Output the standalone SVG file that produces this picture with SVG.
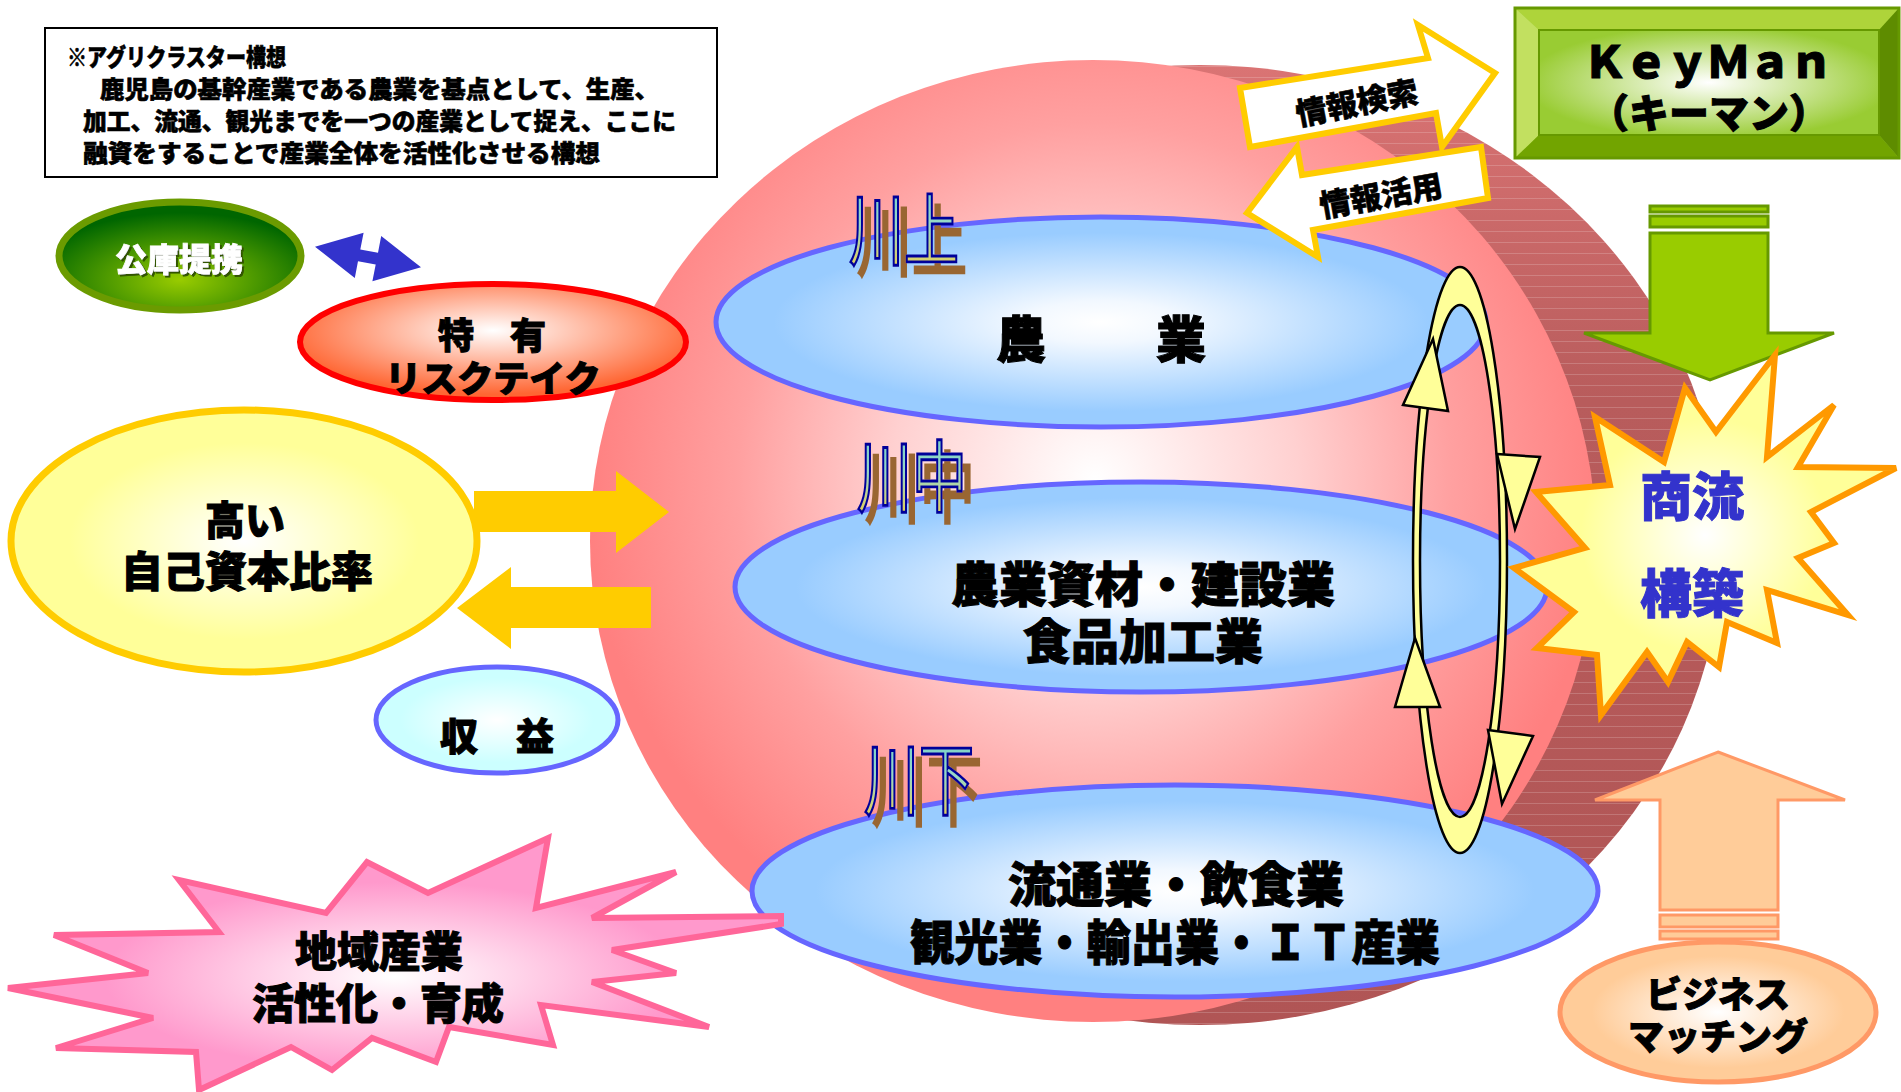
<svg xmlns="http://www.w3.org/2000/svg" width="1901" height="1092" viewBox="0 0 1901 1092">
<style>
text{font-family:"Noto Sans CJK JP","Noto Sans",sans-serif;font-weight:900;fill:#000;stroke:#000;stroke-width:1}
.kawa{font-size:55px;font-weight:400;fill:url(#kawaGrad);stroke:#000099;stroke-width:2}
.blue{fill:url(#gBlue);stroke:#6666FF;stroke-width:5}
.tri{fill:#FFFF99;stroke:#000;stroke-width:2.5;stroke-linejoin:miter}
.info{fill:#fff;stroke:#FFCC00;stroke-width:6}
.yarrow{fill:#FFCC00}
.tb{font-size:24px;stroke-width:0.6}
</style>
<defs>
<radialGradient id="gPink" gradientUnits="userSpaceOnUse" cx="1095" cy="480" r="510">
<stop offset="0" stop-color="#FFFFFF"/><stop offset="0.4" stop-color="#FFD0D0"/><stop offset="0.7" stop-color="#FFA0A0"/><stop offset="1" stop-color="#FF8080"/>
</radialGradient>
<linearGradient id="gDark" x1="0" y1="0" x2="0" y2="1">
<stop offset="0" stop-color="#DA7474"/><stop offset="0.35" stop-color="#B85C5C"/><stop offset="1" stop-color="#B05555"/>
</linearGradient>
<pattern id="stripes" patternUnits="userSpaceOnUse" width="20" height="11">
<rect x="0" y="0" width="20" height="1" fill="#ffffff" fill-opacity="0.18"/>
</pattern>
<radialGradient id="gBlue" cx="0.5" cy="0.5" r="0.5">
<stop offset="0" stop-color="#FFFFFF"/><stop offset="0.2" stop-color="#F2F8FF"/><stop offset="0.85" stop-color="#99CCFF"/>
</radialGradient>
<linearGradient id="kawaGrad" x1="0" y1="0" x2="0" y2="1">
<stop offset="0" stop-color="#66CCCC"/><stop offset="0.5" stop-color="#99D9C6"/><stop offset="1" stop-color="#FFCC33"/>
</linearGradient>
<radialGradient id="gGreenEl" cx="0.5" cy="0.72" r="0.62">
<stop offset="0" stop-color="#99CC00"/><stop offset="1" stop-color="#006600"/>
</radialGradient>
<radialGradient id="gRisk" cx="0.5" cy="0.4" r="0.55">
<stop offset="0" stop-color="#FFFFFF"/><stop offset="1" stop-color="#FF6633"/>
</radialGradient>
<radialGradient id="gYellow" cx="0.5" cy="0.5" r="0.5">
<stop offset="0" stop-color="#FFFFFF"/><stop offset="0.75" stop-color="#FFFF99"/>
</radialGradient>
<radialGradient id="gCyan" cx="0.5" cy="0.5" r="0.5">
<stop offset="0" stop-color="#FFFFFF"/><stop offset="0.8" stop-color="#CCFFFF"/>
</radialGradient>
<radialGradient id="gPeach" cx="0.5" cy="0.5" r="0.5">
<stop offset="0" stop-color="#FFFFFF"/><stop offset="0.8" stop-color="#FFCC99"/>
</radialGradient>
<radialGradient id="gPinkStar" cx="0.5" cy="0.55" r="0.5">
<stop offset="0" stop-color="#FFFFFF"/><stop offset="0.75" stop-color="#FF99CC"/>
</radialGradient>
<radialGradient id="gYStar" cx="0.5" cy="0.5" r="0.5">
<stop offset="0" stop-color="#FFFFFF"/><stop offset="0.65" stop-color="#FFFF99"/>
</radialGradient>
<radialGradient id="gKey" cx="0.5" cy="0.5" r="0.6">
<stop offset="0" stop-color="#FFFFFF"/><stop offset="0.9" stop-color="#99CC33"/>
</radialGradient>
<filter id="kshadow" x="-10%" y="-20%" width="140%" height="160%">
<feOffset in="SourceAlpha" dx="8" dy="8" result="o"/>
<feFlood flood-color="#996633"/>
<feComposite in2="o" operator="in" result="s"/>
<feMerge><feMergeNode in="s"/><feMergeNode in="SourceGraphic"/></feMerge>
</filter>
<filter id="gshadow" x="-10%" y="-20%" width="130%" height="150%">
<feOffset in="SourceAlpha" dx="2" dy="2" result="o"/>
<feFlood flood-color="#335500"/>
<feComposite in2="o" operator="in" result="s"/>
<feMerge><feMergeNode in="s"/><feMergeNode in="SourceGraphic"/></feMerge>
</filter>
</defs>
<rect x="0" y="0" width="1901" height="1092" fill="#FFFFFF"/>

<g id="sphere">
<ellipse cx="1200" cy="545" rx="522" ry="480" fill="url(#gDark)"/>
<ellipse cx="1200" cy="545" rx="522" ry="480" fill="url(#stripes)"/>
<ellipse cx="1093" cy="541" rx="503" ry="481" fill="url(#gPink)"/>
</g>

<g id="node-kawakami">
<ellipse class="blue" cx="1101" cy="322" rx="385" ry="105"/>
<text font-size="50" text-anchor="middle" y="358"><tspan x="1021">農</tspan><tspan x="1181">業</tspan></text>
<g transform="translate(849,259) scale(1,1.43)"><text class="kawa" x="0" y="0" filter="url(#kshadow)">川上</text></g>
</g>

<g id="node-kawanaka">
<ellipse class="blue" cx="1141" cy="587" rx="406" ry="105"/>
<text font-size="48" text-anchor="middle" x="1143" y="602">農業資材・建設業</text>
<text font-size="48" text-anchor="middle" x="1143" y="659">食品加工業</text>
<g transform="translate(857,506) scale(1,1.43)"><text class="kawa" x="0" y="0" filter="url(#kshadow)">川中</text></g>
</g>

<g id="node-kawashimo">
<ellipse class="blue" cx="1175" cy="891" rx="423" ry="106"/>
<text font-size="48" text-anchor="middle" x="1176" y="902">流通業・飲食業</text>
<text font-size="48" text-anchor="middle" x="1175" y="960" textLength="530" lengthAdjust="spacingAndGlyphs">観光業・輸出業・ＩＴ産業</text>
<g transform="translate(864,809) scale(1,1.43)"><text class="kawa" x="0" y="0" filter="url(#kshadow)">川下</text></g>
</g>

<g id="connectors">
<g id="cycle">
<path d="M1460,267 A47,293 0 1,1 1460,853 A47,293 0 1,1 1460,267 Z M1460,305 A40,256 0 1,0 1460,817 A40,256 0 1,0 1460,305 Z" fill="#FFFF99" fill-rule="evenodd" stroke="#000" stroke-width="2.5"/>
<polygon class="tri" points="1433,339 1403,405 1448,411"/>
<polygon class="tri" points="1415,638 1395,707 1440,707"/>
<polygon class="tri" points="1497,454 1540,457 1515,529"/>
<polygon class="tri" points="1488,730 1533,736 1502,804"/>
</g>
<polygon id="arrow-search" class="info" points="1240,88 1428,58 1418,25 1495,73 1442,147 1436,113 1250,147"/>
<text font-size="31" text-anchor="middle" transform="translate(1357,103) rotate(-11)" x="0" y="11" textLength="124" lengthAdjust="spacingAndGlyphs" style="stroke-width:0.6">情報検索</text>
<polygon id="arrow-use" class="info" points="1247,213 1297,147 1302,175 1481,147 1488,198 1313,230 1318,257"/>
<text font-size="31" text-anchor="middle" transform="translate(1381,196) rotate(-10)" x="0" y="11" textLength="124" lengthAdjust="spacingAndGlyphs" style="stroke-width:0.6">情報活用</text>
<g id="arrow-keyman" fill="#99CC00" stroke="#669900" stroke-width="3">
<rect x="1650" y="206" width="118" height="6"/>
<rect x="1650" y="216" width="118" height="11"/>
<polygon points="1650,233 1768,233 1768,333 1834,333 1710,380 1584,333 1650,333"/>
</g>
<g id="arrow-matching" fill="#FFCC99" stroke="#FF9966" stroke-width="3">
<polygon points="1718,752 1845,800 1778,800 1778,910 1660,910 1660,800 1595,800"/>
<rect x="1660" y="915" width="118" height="12"/>
<rect x="1660" y="931" width="118" height="8"/>
</g>
<polygon id="arrow-koko" fill="#3333CC" points="315,246.7 363.6,232.7 360.3,249.4 378,252.8 381.2,236.1 421,267.3 372.4,281.3 375.7,264.6 358,261.2 354.8,277.9"/>
<polygon id="arrow-invest" class="yarrow" points="474,491 616,491 616,471 669,512 616,553 616,532 474,532"/>
<polygon id="arrow-return" class="yarrow" points="651,587 511,587 511,567 457,608 511,649 511,628 651,628"/>
</g>

<g id="node-koko">
<ellipse cx="180" cy="256" rx="121" ry="54" fill="url(#gGreenEl)" stroke="#6B9B00" stroke-width="7"/>
<text font-size="32" text-anchor="middle" x="179" y="271" filter="url(#gshadow)" style="fill:#FFFFFF;stroke:#FFFFFF;stroke-width:0.8">公庫提携</text>
</g>

<g id="node-risk">
<ellipse cx="493" cy="342" rx="193" ry="58" fill="url(#gRisk)" stroke="#FF0000" stroke-width="6"/>
<text font-size="36" text-anchor="middle" x="492" y="349">特　有</text>
<text font-size="36" text-anchor="middle" x="493" y="392">リスクテイク</text>
</g>

<g id="node-capital">
<ellipse cx="244" cy="541" rx="233" ry="131" fill="url(#gYellow)" stroke="#FFCC00" stroke-width="7"/>
<text font-size="40" text-anchor="middle" x="245" y="535">高い</text>
<text font-size="42" text-anchor="middle" x="247" y="587">自己資本比率</text>
</g>

<g id="node-profit">
<ellipse cx="497" cy="720" rx="121" ry="53" fill="url(#gCyan)" stroke="#6666FF" stroke-width="5"/>
<text font-size="38" text-anchor="middle" x="497" y="750">収　益</text>
</g>

<g id="node-region">
<polygon points="8,988 148,973 54,935 219,932 179,880 326,913 367,862 428,893 548,838 536,908 676,872 592,918 781,916 781,924 612,950 676,973 592,982 709,1027 541,1005 553,1045 449,1027 436,1062 372,1038 332,1070 291,1047 199,1090 196,1052 56,1048 153,1018" fill="url(#gPinkStar)" stroke="#FF6699" stroke-width="6" stroke-linejoin="miter"/>
<text font-size="42" text-anchor="middle" x="379" y="967">地域産業</text>
<text font-size="42" text-anchor="middle" x="378" y="1019">活性化・育成</text>
</g>

<g id="node-shoryu">
<polygon points="1775,355 1767,457 1834,405 1798,467 1896,468 1811,512 1834,543 1798,558 1848,615 1767,590 1777,643 1727,622 1719,667 1687,642 1668,682 1647,652 1601,715 1597,655 1537,648 1574,612 1514,568 1585,548 1536,492 1610,485 1595,417 1664,462 1685,388 1716,432" fill="url(#gYStar)" stroke="#FF9900" stroke-width="6" stroke-linejoin="miter"/>
<text font-size="52" text-anchor="middle" x="1692" y="516" style="fill:#3333CC;stroke:#3333CC">商流</text>
<text font-size="52" text-anchor="middle" x="1692" y="613" style="fill:#3333CC;stroke:#3333CC">構築</text>
</g>

<g id="node-keyman">
<rect x="1515" y="8" width="384" height="150" fill="#99CC33" stroke="#669900" stroke-width="2"/>
<polygon points="1515,8 1899,8 1879,30 1539,30" fill="#AED43A"/>
<polygon points="1515,8 1539,30 1539,135 1515,158" fill="#C2E060"/>
<polygon points="1515,158 1539,135 1879,135 1899,158" fill="#72A400"/>
<polygon points="1899,8 1879,30 1879,135 1899,158" fill="#5E8C00"/>
<rect x="1539" y="30" width="340" height="105" fill="url(#gKey)" stroke="#669900" stroke-width="2"/>
<rect x="1515" y="8" width="384" height="150" fill="none" stroke="#669900" stroke-width="3"/>
<text font-size="44" text-anchor="middle" x="1708" y="78" textLength="250" lengthAdjust="spacing">ＫｅｙＭａｎ</text>
<text font-size="40" text-anchor="middle" x="1709" y="128">（キーマン）</text>
</g>

<g id="node-matching">
<ellipse cx="1718" cy="1012" rx="158" ry="70" fill="url(#gPeach)" stroke="#FF9966" stroke-width="5"/>
<text font-size="36" text-anchor="middle" x="1718" y="1008">ビジネス</text>
<text font-size="36" text-anchor="middle" x="1718" y="1050">マッチング</text>
</g>

<g id="node-note">
<rect x="45" y="28" width="672" height="149" fill="#FFFFFF" stroke="#000" stroke-width="2"/>
<text class="tb" x="67" y="66" textLength="219" lengthAdjust="spacingAndGlyphs">※アグリクラスター構想</text>
<text class="tb" x="100" y="98" textLength="559" lengthAdjust="spacingAndGlyphs">鹿児島の基幹産業である農業を基点として、生産、</text>
<text class="tb" x="83" y="130" textLength="593" lengthAdjust="spacingAndGlyphs">加工、流通、観光までを一つの産業として捉え、ここに</text>
<text class="tb" x="83" y="162" textLength="517" lengthAdjust="spacingAndGlyphs">融資をすることで産業全体を活性化させる構想</text>
</g>
</svg>
